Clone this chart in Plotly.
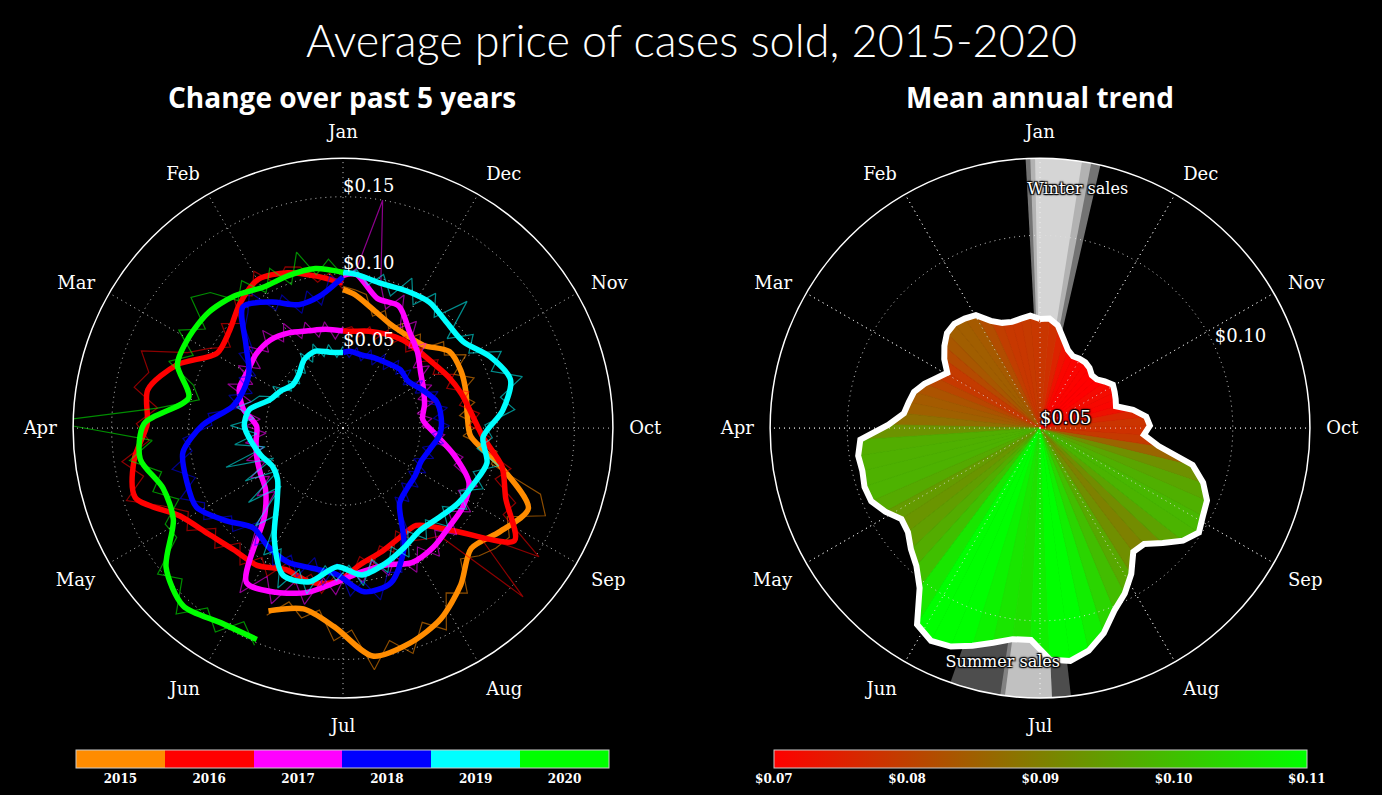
import plotly.graph_objects as go
from plotly.colors import sample_colorscale

# ---------------- data ----------------
MONTHS = ["Jan", "Feb", "Mar", "Apr", "May", "Jun",
          "Jul", "Aug", "Sep", "Oct", "Nov", "Dec"]
MONTH_ANGLES = [0, 30, 60, 90, 120, 150, 180, 210, 240, 270, 300, 330]

YEARS = [2015, 2016, 2017, 2018, 2019, 2020]
YEAR_COLORS = ["#FF8C00", "#FF0000", "#FF00FF", "#0000FF", "#00FFFF", "#00FF00"]

# day-of-year grids (smoothed every 10 days, raw every 5 days)
SMOOTH_DAYS = list(range(1, 362, 10)) + [366]
RAW_DAYS = list(range(1, 362, 5)) + [366]

SMOOTH_2015 = [None] * 16 + [0.128, 0.120, 0.129, 0.149, 0.146, 0.139, 0.127, 0.114, 0.122, 0.131,
                             0.105, 0.083, 0.081, 0.083, 0.085, 0.085, 0.075, 0.073, 0.074, 0.079,
                             0.087, 0.090]
SMOOTH_2016 = [0.094, 0.100, 0.107, 0.111, 0.105, 0.097, 0.095, 0.115, 0.129, 0.127,
               0.137, 0.142, 0.120, 0.111, 0.106, 0.105, 0.099, 0.102, 0.100, 0.089,
               0.084, 0.080, 0.079, 0.097, 0.133, 0.115, 0.106, 0.091, 0.084, 0.080,
               0.076, 0.072, 0.070, 0.069, 0.067, 0.065, 0.063, 0.063]
SMOOTH_2017 = [0.063, 0.065, 0.067, 0.071, 0.074, 0.074, 0.072, 0.072, 0.066, 0.056,
               0.057, 0.059, 0.061, 0.064, 0.076, 0.118, 0.115, 0.109, 0.100, 0.094,
               0.093, 0.098, 0.097, 0.094, 0.093, 0.089, 0.074, 0.060, 0.052, 0.055,
               0.058, 0.062, 0.069, 0.076, 0.087, 0.087, 0.100, 0.099]
SMOOTH_2018 = [0.098, 0.087, 0.085, 0.094, 0.102, 0.083, 0.071, 0.069, 0.073, 0.091,
               0.105, 0.107, 0.108, 0.097, 0.087, 0.091, 0.094, 0.093, 0.095, 0.107,
               0.105, 0.087, 0.061, 0.057, 0.056, 0.055, 0.058, 0.063, 0.064, 0.063,
               0.057, 0.052, 0.053, 0.051, 0.050, 0.049, 0.050, 0.049]
SMOOTH_2019 = [0.049, 0.050, 0.053, 0.051, 0.045, 0.043, 0.047, 0.051, 0.062, 0.064,
               0.060, 0.056, 0.052, 0.054, 0.064, 0.084, 0.103, 0.102, 0.090, 0.096,
               0.092, 0.087, 0.083, 0.085, 0.089, 0.092, 0.096, 0.091, 0.104, 0.113,
               0.106, 0.096, 0.096, 0.099, 0.098, 0.097, 0.100, 0.101]
SMOOTH_2020 = [0.101, 0.105, 0.105, 0.105, 0.111, 0.115, 0.116, 0.115, 0.102, 0.129,
               0.133, 0.123, 0.125, 0.146, 0.155, 0.149, 0.148] + [None] * 21

RAW_2015 = [None] * 32 + [0.131, 0.118, 0.126, 0.119, 0.138, 0.131, 0.158, 0.141, 0.153, 0.136,
                          0.147, 0.126, 0.134, 0.114, 0.121, 0.126, 0.129, 0.121, 0.143, 0.135,
                          0.099, 0.101, 0.078, 0.088, 0.076, 0.087, 0.079, 0.091, 0.080, 0.093,
                          0.081, 0.086, 0.071, 0.079, 0.069, 0.078, 0.071, 0.081, 0.075, 0.088,
                          0.090, 0.092]
RAW_2016 = [0.090, 0.101, 0.096, 0.108, 0.111, 0.103, 0.117, 0.104, 0.112, 0.095,
            0.104, 0.090, 0.101, 0.112, 0.140, 0.131, 0.138, 0.121, 0.134, 0.126,
            0.145, 0.133, 0.148, 0.127, 0.114, 0.121, 0.105, 0.114, 0.100, 0.111,
            0.099, 0.108, 0.094, 0.106, 0.097, 0.108, 0.094, 0.099, 0.084, 0.091,
            0.080, 0.087, 0.075, 0.086, 0.090, 0.094, 0.160, 0.112, 0.152, 0.118,
            0.122, 0.104, 0.112, 0.093, 0.096, 0.082, 0.089, 0.077, 0.085, 0.072,
            0.080, 0.068, 0.076, 0.066, 0.073, 0.064, 0.072, 0.063, 0.070, 0.061,
            0.068, 0.060, 0.066, 0.064]
RAW_2017 = [0.066, 0.058, 0.070, 0.061, 0.073, 0.064, 0.078, 0.068, 0.082, 0.069,
            0.081, 0.066, 0.079, 0.065, 0.080, 0.062, 0.071, 0.054, 0.063, 0.050,
            0.064, 0.053, 0.066, 0.055, 0.068, 0.057, 0.071, 0.060, 0.083, 0.101,
            0.126, 0.108, 0.123, 0.104, 0.117, 0.098, 0.108, 0.091, 0.101, 0.088,
            0.100, 0.090, 0.105, 0.091, 0.104, 0.089, 0.101, 0.087, 0.099, 0.085,
            0.095, 0.076, 0.080, 0.061, 0.066, 0.051, 0.058, 0.049, 0.061, 0.052,
            0.064, 0.055, 0.069, 0.060, 0.077, 0.067, 0.084, 0.075, 0.095, 0.082,
            0.096, 0.150, 0.104, 0.097]
RAW_2018 = [0.094, 0.099, 0.081, 0.092, 0.079, 0.095, 0.088, 0.107, 0.097, 0.091,
            0.077, 0.083, 0.066, 0.075, 0.063, 0.077, 0.068, 0.088, 0.085, 0.104,
            0.099, 0.114, 0.101, 0.115, 0.102, 0.108, 0.092, 0.098, 0.082, 0.095,
            0.086, 0.100, 0.089, 0.101, 0.086, 0.103, 0.088, 0.109, 0.100, 0.114,
            0.098, 0.101, 0.082, 0.080, 0.056, 0.064, 0.052, 0.062, 0.051, 0.061,
            0.050, 0.062, 0.053, 0.066, 0.058, 0.069, 0.059, 0.069, 0.058, 0.066,
            0.052, 0.060, 0.048, 0.058, 0.049, 0.057, 0.046, 0.055, 0.045, 0.054,
            0.045, 0.053, 0.046, 0.052]
RAW_2019 = [0.053, 0.046, 0.055, 0.048, 0.058, 0.047, 0.056, 0.043, 0.049, 0.040,
            0.047, 0.041, 0.053, 0.046, 0.058, 0.062, 0.070, 0.058, 0.073, 0.056,
            0.071, 0.052, 0.080, 0.049, 0.072, 0.050, 0.078, 0.055, 0.085, 0.070,
            0.097, 0.088, 0.112, 0.096, 0.110, 0.090, 0.099, 0.089, 0.103, 0.087,
            0.098, 0.083, 0.094, 0.079, 0.090, 0.080, 0.093, 0.082, 0.096, 0.086,
            0.099, 0.089, 0.104, 0.088, 0.097, 0.092, 0.112, 0.104, 0.121, 0.103,
            0.114, 0.095, 0.104, 0.089, 0.115, 0.093, 0.106, 0.092, 0.107, 0.091,
            0.103, 0.094, 0.103, 0.099]
RAW_2020 = [0.099, 0.110, 0.101, 0.118, 0.099, 0.114, 0.101, 0.116, 0.107, 0.123,
            0.130, 0.110, 0.124, 0.108, 0.121, 0.101, 0.095, 0.121, 0.190, 0.124,
            0.140, 0.121, 0.130, 0.116, 0.131, 0.129, 0.153, 0.143, 0.162, 0.146,
            0.156, 0.141, 0.152] + [None] * 41

SMOOTH = [SMOOTH_2015, SMOOTH_2016, SMOOTH_2017, SMOOTH_2018, SMOOTH_2019, SMOOTH_2020]
RAW = [RAW_2015, RAW_2016, RAW_2017, RAW_2018, RAW_2019, RAW_2020]

LEFT_R_TICKS = [0.05, 0.10, 0.15]
LEFT_R_LABELS = ["$0.05", "$0.10", "$0.15"]

# mean annual trend, every 5 days
TREND_DAYS = list(range(1, 362, 5))
TREND = [0.0783, 0.0793, 0.0788, 0.0785, 0.0790, 0.0806, 0.0837, 0.0845, 0.0850, 0.0845,
         0.0827, 0.0806, 0.0780, 0.0798, 0.0821, 0.0840, 0.0847, 0.0855, 0.0894, 0.0967,
         0.0977, 0.0974, 0.0980, 0.0977, 0.0956, 0.0930, 0.0936, 0.0959, 0.0980, 0.1019,
         0.1101, 0.1120, 0.1112, 0.1091, 0.1070, 0.1052, 0.1050, 0.1101, 0.1109, 0.1091,
         0.1057, 0.1011, 0.0982, 0.0946, 0.0902, 0.0904, 0.0936, 0.0972, 0.0993, 0.0980,
         0.0972, 0.0946, 0.0907, 0.0811, 0.0770, 0.0785, 0.0777, 0.0746, 0.0705, 0.0710,
         0.0715, 0.0720, 0.0707, 0.0694, 0.0692, 0.0702, 0.0707, 0.0707, 0.0705, 0.0715,
         0.0739, 0.0770, 0.0785]

# sale periods (start day, end day), several years overlaid
WINTER_START = [353, 355, 357]
WINTER_END = [369, 368, 367]
SUMMER_START = [164, 175, 176, 176]
SUMMER_END = [190, 186, 186, 186]

RIGHT_R_MIN, RIGHT_R_MAX = 0.05, 0.12
CBAR_TICKS = [0.07, 0.08, 0.09, 0.10, 0.11]
CBAR_LABELS = ["$0.07", "$0.08", "$0.09", "$0.10", "$0.11"]


def day_to_theta(d):
    return (d - 1) * 360.0 / 365.0


# ---------------- figure ----------------
fig = go.Figure()
SERIF = "DejaVu Serif"
GRID = "rgba(225,225,225,0.9)"
DOTS = "1px,4px"
OUTLINE = "1px 1px 1px black, -1px -1px 1px black, 1px -1px 1px black, -1px 1px 1px black, 0px 0px 3px black"
RG_SCALE = [[0, "rgb(255,0,0)"], [1, "rgb(0,255,0)"]]

smooth_theta = [day_to_theta(d) for d in SMOOTH_DAYS]
raw_theta = [day_to_theta(d) for d in RAW_DAYS]

for yr, col, sm, rw in zip(YEARS, YEAR_COLORS, SMOOTH, RAW):
    fig.add_trace(go.Scatterpolar(
        r=rw, theta=raw_theta, mode="lines", subplot="polar",
        line=dict(color=col, width=1.2), opacity=0.55, cliponaxis=False,
        showlegend=False, hoverinfo="skip"))
    fig.add_trace(go.Scatterpolar(
        r=sm, theta=smooth_theta, mode="lines", subplot="polar",
        line=dict(color=col, width=5.5, shape="spline", smoothing=0.8),
        showlegend=False, name=str(yr)))

# radial labels (left)
fig.add_trace(go.Scatterpolar(
    r=LEFT_R_TICKS, theta=[0] * len(LEFT_R_TICKS), mode="text", subplot="polar",
    text=LEFT_R_LABELS, textposition="top right", cliponaxis=False,
    textfont=dict(family=SERIF, size=18, color="white"), showlegend=False, hoverinfo="skip"))

# discrete year colourbar (left)
n = len(YEARS)
year_scale = []
for i, c in enumerate(YEAR_COLORS):
    year_scale.append([i / n, c])
    year_scale.append([(i + 1) / n, c])
CB_COMMON = dict(orientation="h", xanchor="center", y=0.0566, yanchor="top",
                 len=0.386, lenmode="fraction", thickness=18, xpad=0, ypad=0,
                 outlinecolor="#cccccc", outlinewidth=1, ticks="",
                 ticklabelposition="outside bottom",
                 tickfont=dict(family=SERIF, size=12, color="white", weight="bold"))
fig.add_trace(go.Scatterpolar(
    r=[0] * n, theta=[0] * n, mode="markers", subplot="polar", showlegend=False,
    hoverinfo="skip",
    marker=dict(size=1, opacity=0, color=YEARS, colorscale=year_scale,
                cmin=YEARS[0] - 0.5, cmax=YEARS[-1] + 0.5, showscale=True,
                colorbar=dict(x=0.2478, tickvals=YEARS, ticktext=[str(y) for y in YEARS],
                              **CB_COMMON))))

# ---- right: sale wedges ----
for s, e in zip(WINTER_START, WINTER_END):
    fig.add_trace(go.Barpolar(
        r=[RIGHT_R_MAX - RIGHT_R_MIN], base=RIGHT_R_MIN,
        theta=[day_to_theta((s + e) / 2)], width=[e - s], subplot="polar2",
        marker=dict(color="white", line=dict(width=0)), opacity=0.45,
        showlegend=False, hoverinfo="skip"))
for s, e in zip(SUMMER_START, SUMMER_END):
    fig.add_trace(go.Barpolar(
        r=[RIGHT_R_MAX - RIGHT_R_MIN], base=RIGHT_R_MIN,
        theta=[day_to_theta((s + e) / 2)], width=[e - s], subplot="polar2",
        marker=dict(color="white", line=dict(width=0)), opacity=0.3,
        showlegend=False, hoverinfo="skip"))

# ---- right: filled trend, one coloured triangle per segment ----
trend_theta = [day_to_theta(d) for d in TREND_DAYS]
cmin, cmax = CBAR_TICKS[0], CBAR_TICKS[-1]
nt = len(TREND)
for i in range(nt):
    j = (i + 1) % nt
    t0 = trend_theta[i]
    t1 = trend_theta[j] if j > 0 else 360.0
    frac = min(max(((TREND[i] + TREND[j]) / 2 - cmin) / (cmax - cmin), 0), 1)
    col = sample_colorscale(RG_SCALE, [frac])[0]
    fig.add_trace(go.Scatterpolar(
        r=[RIGHT_R_MIN, TREND[i], TREND[j], RIGHT_R_MIN], theta=[t0, t0, t1, t1],
        mode="lines", fill="toself", fillcolor=col, line=dict(color=col, width=0.8),
        subplot="polar2", showlegend=False, hoverinfo="skip"))

# colourbar host (right)
fig.add_trace(go.Scatterpolar(
    r=[RIGHT_R_MIN] * nt, theta=trend_theta, mode="markers", subplot="polar2",
    showlegend=False, hoverinfo="skip",
    marker=dict(size=1, opacity=0, color=TREND, colorscale=RG_SCALE, cmin=cmin, cmax=cmax,
                showscale=True,
                colorbar=dict(x=0.7528, tickvals=CBAR_TICKS, ticktext=CBAR_LABELS,
                              **CB_COMMON))))

# dotted grid over the fill (right)
spoke_r, spoke_t = [], []
for a in MONTH_ANGLES:
    spoke_r += [RIGHT_R_MIN, RIGHT_R_MAX, None]
    spoke_t += [a, a, None]
fig.add_trace(go.Scatterpolar(r=spoke_r, theta=spoke_t, mode="lines", subplot="polar2",
                              line=dict(color=GRID, width=1, dash=DOTS),
                              showlegend=False, hoverinfo="skip"))
circ_t = list(range(0, 361, 2))
fig.add_trace(go.Scatterpolar(r=[0.10] * len(circ_t), theta=circ_t, mode="lines",
                              subplot="polar2", line=dict(color=GRID, width=1, dash=DOTS),
                              showlegend=False, hoverinfo="skip"))

# white outline
fig.add_trace(go.Scatterpolar(
    r=TREND + [TREND[0]], theta=trend_theta + [360], mode="lines", subplot="polar2",
    line=dict(color="white", width=6), showlegend=False, hoverinfo="skip"))

# right labels
fig.add_trace(go.Scatterpolar(
    r=[0.05, 0.10], theta=[0, 295], mode="text", subplot="polar2",
    text=["$0.05", "$0.10"], textposition="top right", cliponaxis=False,
    textfont=dict(family=SERIF, size=18, color="white", shadow=OUTLINE),
    showlegend=False, hoverinfo="skip"))
fig.add_trace(go.Scatterpolar(
    r=[0.1125, 0.1117], theta=[351, 171], mode="text", subplot="polar2",
    text=["Winter sales", "Summer sales"], textposition="middle center", cliponaxis=False,
    textfont=dict(family=SERIF, size=16, color="white", shadow=OUTLINE),
    showlegend=False, hoverinfo="skip"))

angular = dict(rotation=90, direction="counterclockwise", thetaunit="degrees",
               tickmode="array", tickvals=MONTH_ANGLES, ticktext=MONTHS,
               showgrid=True, gridcolor=GRID, griddash=DOTS, gridwidth=1,
               showline=True, linecolor="white", linewidth=1.5,
               ticks="outside", ticklen=12, tickcolor="rgba(0,0,0,0)",
               tickfont=dict(family=SERIF, size=18, color="white"))

fig.update_layout(
    width=1382, height=795,
    paper_bgcolor="black", plot_bgcolor="black",
    margin=dict(l=0, r=0, t=0, b=0),
    showlegend=False,
    polar=dict(domain=dict(x=[0.0528, 0.4436], y=[0.122, 0.801]), bgcolor="black",
               angularaxis=angular,
               radialaxis=dict(range=[0, 0.175], tickvals=LEFT_R_TICKS, showticklabels=False,
                               ticks="", showline=False, gridcolor=GRID, griddash=DOTS,
                               gridwidth=1)),
    polar2=dict(domain=dict(x=[0.5572, 0.9479], y=[0.122, 0.801]), bgcolor="black",
                angularaxis=angular,
                radialaxis=dict(range=[RIGHT_R_MIN, RIGHT_R_MAX], tickvals=[0.10],
                                showticklabels=False, ticks="", showline=False,
                                showgrid=False)),
    annotations=[
        dict(text="Average price of cases sold, 2015-2020", x=0.5, y=0.95,
             xref="paper", yref="paper", showarrow=False, xanchor="center", yanchor="middle",
             font=dict(family="Lato", size=45, color="white", weight=300)),
        dict(text="<b>Change over past 5 years</b>", x=0.2478, y=0.878,
             xref="paper", yref="paper", showarrow=False, xanchor="center", yanchor="middle",
             font=dict(family="Open Sans", size=28, color="white")),
        dict(text="<b>Mean annual trend</b>", x=0.7528, y=0.878,
             xref="paper", yref="paper", showarrow=False, xanchor="center", yanchor="middle",
             font=dict(family="Open Sans", size=28, color="white")),
    ],
)

fig.write_html("out.html", config={"displayModeBar": False},
               post_script="document.body.style.margin='0';document.body.style.overflow='hidden';")
